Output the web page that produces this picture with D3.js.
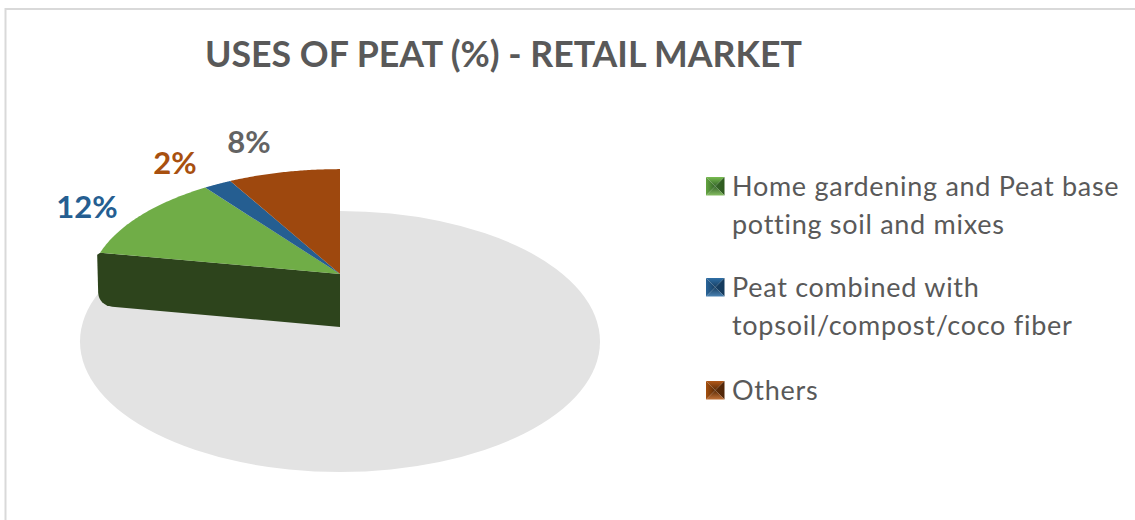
<!DOCTYPE html>
<html><head><meta charset="utf-8">
<style>html,body{margin:0;padding:0;background:#fff}svg{display:block}text{font-family:Lato,"Open Sans",sans-serif}</style>
<script src="https://cdnjs.cloudflare.com/ajax/libs/d3/7.8.5/d3.min.js"></script></head>
<body><svg id="c" width="1135" height="520"></svg>
<script>
const titleText = "USES OF PEAT (%) - RETAIL MARKET";
const categories = ["Home gardening and Peat base potting soil and mixes","Peat combined with topsoil/compost/coco fiber","Others"];
const legendLines = [["Home gardening and Peat base","potting soil and mixes"],["Peat combined with","topsoil/compost/coco fiber"],["Others"]];
const values = [12,2,8];
const labels = ["12%","2%","8%"];
const remainder = 78;
const colors = ["#70ad47","#255e91","#9e480e"];
const bevels = [["#78bc50","#64a540","#2f5a1e","#86bd62"],["#2f6fa6","#2a659a","#143a5c","#4a82b2"],["#b2591a","#a5500f","#4f2508","#c27238"]];
const bevelCentres = ["#35662a","#173f63","#5c2c08"];
const labelColors = ["#255e91","#a8500f","#636363"];
const labelPos = [[87,207],[175,163],[249,142]];

const svg = d3.select("#c");
svg.append("path").attr("d","M1135 9H5.5V520").attr("fill","none").attr("stroke","#d9d9d9").attr("stroke-width",2);
svg.append("text").attr("x",503.5).attr("y",67).attr("text-anchor","middle").attr("font-size",35.5).attr("font-weight",700).attr("fill","#595959").attr("textLength",597).attr("lengthAdjust","spacingAndGlyphs").text(titleText);

const cx = 340, topY = 274, A = 249, B = 116, k = 0.106, depth = 53;
const baseCy = 341.5, baseRx = 260, baseRy = 130.5;
const project = a => {
  const w = 1 + k*Math.cos(a);
  return [cx + A*Math.sin(a)/w, topY - B*Math.cos(a)/w];
};

const rows = [{v:remainder,k:-1}].concat(values.map((v,i)=>({v,k:i})));
const pie = d3.pie().sort(null).value(d=>d.v)(rows);
const line = d3.line();

svg.append("ellipse").attr("cx",cx).attr("cy",baseCy).attr("rx",baseRx).attr("ry",baseRy).attr("fill","#e3e3e3");

const slices = pie.filter(d=>d.data.k>=0);
const [px,py] = project(slices[0].startAngle);

const wall = d3.path();
wall.moveTo(cx,topY); wall.lineTo(px,py);
wall.lineTo(px-3,py+2); wall.lineTo(px-2,py+depth-13);
wall.quadraticCurveTo(px-1,py+depth-1,px+12,py+depth+1);
wall.lineTo(cx,topY+depth); wall.closePath();
svg.append("path").attr("d",wall.toString()).attr("fill","#2d441c");

svg.selectAll("path.slice").data(slices).join("path").attr("class","slice")
  .attr("d",d=>{
    const n = 60, pts = [[cx,topY]];
    for(let i=0;i<=n;i++) pts.push(project(d.startAngle+(d.endAngle-d.startAngle)*i/n));
    return line(pts)+"Z";
  })
  .attr("fill",d=>colors[d.data.k]);

svg.selectAll("text.lab").data(labels).join("text").attr("class","lab")
  .attr("x",(d,i)=>labelPos[i][0]).attr("y",(d,i)=>labelPos[i][1]+11)
  .attr("text-anchor","middle").attr("font-size",31).attr("font-weight",700)
  .attr("fill",(d,i)=>labelColors[i]).text(d=>d);

const defs = svg.append("defs");
const dirs = [[0,0,0,1],[0,0,1,0],[1,0,0,0],[0,1,0,0]];
const legendY = [177,278,381], s = 18.5, lx = 706;
categories.forEach((c,i)=>{
  const y = legendY[i];
  const m = svg.append("g").attr("transform",`translate(${lx},${y})`).attr("aria-label",c);
  const tri = [[[0,0],[s,0],[s/2,s/2]],[[0,0],[0,s],[s/2,s/2]],[[s,0],[s,s],[s/2,s/2]],[[0,s],[s,s],[s/2,s/2]]];
  tri.forEach((t,j)=>{
    const id = `b${i}${j}`, dr = dirs[j];
    const gr = defs.append("linearGradient").attr("id",id).attr("x1",dr[0]).attr("y1",dr[1]).attr("x2",dr[2]).attr("y2",dr[3]);
    gr.append("stop").attr("offset",0).attr("stop-color",bevels[i][j]);
    gr.append("stop").attr("offset",1).attr("stop-color",bevelCentres[i]);
    m.append("path").attr("d",line(t)+"Z").attr("fill",`url(#${id})`);
  });
  legendLines[i].forEach((l,j)=>{
    svg.append("text").attr("x",732).attr("y",y+19+j*38).attr("font-size",27).attr("fill","#595959").attr("letter-spacing",0.72).text(l);
  });
});
</script></body></html>
